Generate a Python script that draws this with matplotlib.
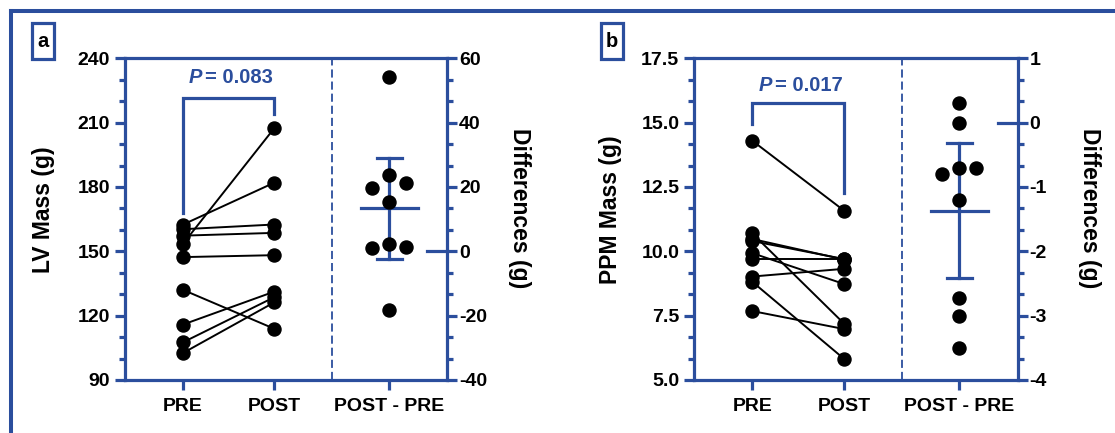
import numpy as np
import matplotlib
matplotlib.use('Agg')
import matplotlib.pyplot as plt
from matplotlib.ticker import MultipleLocator, FormatStrFormatter
from matplotlib.patches import Rectangle
from matplotlib.lines import Line2D

plt.rcParams['font.family'] = ['Liberation Sans', 'DejaVu Sans']
plt.rcParams['font.weight'] = 'bold'
plt.rcParams['axes.unicode_minus'] = False

BLUE = '#2b4e9d'
W, H = 1115, 433

categories = ['PRE', 'POST', 'POST - PRE']

# panel a: LV mass (g), paired pre/post
lv_pre = [162.4, 160.3, 157.3, 153.3, 147.3, 132.1, 115.8, 107.5, 102.5]
lv_post = [182.0, 162.5, 158.6, 207.4, 148.2, 113.9, 131.2, 128.6, 126.2]
lv_p = '0.083'

# panel b: PPM mass (g), paired pre/post
ppm_pre = [14.30, 10.70, 10.48, 10.40, 9.93, 9.70, 9.02, 8.82, 7.68]
ppm_post = [11.58, 7.19, 9.68, 9.70, 8.73, 9.70, 9.32, 5.82, 6.98]
ppm_p = '0.017'

T_95 = 2.306  # t(0.975, df=8)

XLIM = (-0.63, 2.887)
X_DIFF = 2.255
X_SPLIT = 1.63


def fx(px): return px / W
def fy(py): return 1 - py / H


def style_axis(ax, major, minor, fmt, pad):
	ax.yaxis.set_major_locator(MultipleLocator(major))
	ax.yaxis.set_minor_locator(MultipleLocator(minor))
	ax.yaxis.set_major_formatter(FormatStrFormatter(fmt))
	ax.tick_params(axis='y', which='major', length=7.2, width=2.3, color=BLUE,
				   labelsize=14, pad=pad)
	ax.tick_params(axis='y', which='minor', length=4, width=2.3, color=BLUE)
	for s in ax.spines.values():
		s.set_color(BLUE)
		s.set_linewidth(2.3)


def swarm(ax, x0, vals, step_px=17, min_px=14):
	'''
	simple beeswarm: offsets in pixels -> data x
	'''
	ypx = [ax.transData.transform((x0, v))[1] for v in vals]
	xscale = ax.transData.transform((1, 0))[0] - ax.transData.transform((0, 0))[0]
	order = np.argsort(vals)[::-1]
	placed = {}
	for i in order:
		for k in [0, 1, -1, 2, -2]:
			px = k * step_px
			ok = all(np.hypot(px - p[0], ypx[i] - p[1]) >= min_px for p in placed.values())
			if ok:
				break
		placed[i] = (px, ypx[i])
	return [x0 + placed[i][0] / xscale for i in range(len(vals))]


def panel(left_px, right_px, letter, box_x, pre, post, ylabel, ylim, lmaj, lfmt,
		  rlim, rmaj, pval, bracket, ptext_y, lab_x, rlab_x):
	ax = fig.add_axes([fx(left_px), fy(380), fx(right_px - left_px), 321.7 / H])
	ax.set_xlim(XLIM)
	ax.set_ylim(ylim)
	style_axis(ax, lmaj, lmaj / 3, lfmt, 3.6)
	ax.spines['right'].set_visible(False)
	ax.set_xticks([0, 1, X_DIFF])
	ax.set_xticklabels(categories)
	ax.tick_params(axis='x', length=7.2, width=2.3, color=BLUE, labelsize=14, pad=6)

	ax2 = ax.twinx()
	ax2.set_ylim(rlim)
	style_axis(ax2, rmaj, rmaj / 3, '%d', 1.5)
	for s in ['left', 'top', 'bottom']:
		ax2.spines[s].set_visible(False)

	# paired lines
	for a, b in zip(pre, post):
		ax.plot([0, 1], [a, b], '-o', color='black', lw=1.4, ms=9.4, zorder=3, clip_on=False)

	ax.axvline(X_SPLIT, color=BLUE, lw=1.3, ls=(0, (4.5, 2.2)))

	# bracket + p value
	ytop, yl, yr = bracket
	ax.plot([0, 0, 1, 1], [yl, ytop, ytop, yr], color=BLUE, lw=2.3, solid_joinstyle='miter')
	ax.annotate('P', xy=(0.5, ptext_y), xytext=(-26 * 0.72, 0), textcoords='offset points',
				ha='right', va='center', style='italic', color=BLUE, fontsize=14.5)
	ax.annotate('= ' + pval, xy=(0.5, ptext_y), xytext=(-23 * 0.72, 0), textcoords='offset points',
				ha='left', va='center', color=BLUE, fontsize=14.5)

	# differences with mean and 95% CI
	diff = np.array(post) - np.array(pre)
	m = diff.mean()
	ci = T_95 * diff.std(ddof=1) / np.sqrt(len(diff))
	xs = swarm(ax2, X_DIFF, list(diff))
	ax2.plot(xs, diff, 'o', color='black', ms=9.4, zorder=5)
	ax2.plot([X_DIFF, X_DIFF], [m - ci, m + ci], color=BLUE, lw=2.3, zorder=4)
	for yy in [m - ci, m + ci]:
		ax2.plot([X_DIFF - 0.136, X_DIFF + 0.136], [yy, yy], color=BLUE, lw=2.3, zorder=4)
	ax2.plot([X_DIFF - 0.31, X_DIFF + 0.31], [m, m], color=BLUE, lw=2.3, zorder=4)
	ax2.plot([XLIM[1] - 0.215, XLIM[1]], [0, 0], color=BLUE, lw=2.3, clip_on=False)

	fig.text(fx(lab_x), fy(210), ylabel, rotation=90, ha='center', va='center', fontsize=16.5)
	fig.text(fx(rlab_x), fy(208), 'Differences (g)', rotation=-90, ha='center', va='center',
			 fontsize=16.5)

	# panel letter box
	fig.add_artist(Rectangle((fx(box_x), fy(59)), fx(22), 35.7 / H, transform=fig.transFigure,
							 fill=False, ec=BLUE, lw=2.3))
	fig.text(fx(box_x + 11), fy(41.5), letter, ha='center', va='center', fontsize=14.5)


fig = plt.figure(figsize=(W / 100, H / 100), dpi=100)

panel(125, 447, 'a', 31.7, lv_pre, lv_post, 'LV Mass (g)', (90, 240), 30, '%d',
	  (-40, 60), 20, lv_p, (221.4, 168.0, 214.2), 231.0, 43.6, 520)
panel(694.3, 1017.5, 'b', 600.7, ppm_pre, ppm_post, 'PPM Mass (g)', (5, 17.5), 2.5, '%.1f',
	  (-4, 1), 1, ppm_p, (15.75, 14.95, 12.28), 16.46, 610, 1090)

# outer frame (top and left edges only visible)
fig.add_artist(Line2D([fx(11), 1], [fy(11), fy(11)], transform=fig.transFigure, color=BLUE,
					  lw=2.9, solid_capstyle='projecting'))
fig.add_artist(Line2D([fx(11), fx(11)], [fy(11), 0], transform=fig.transFigure, color=BLUE,
					  lw=2.9, solid_capstyle='projecting'))

fig.savefig('out.png', dpi=100)
